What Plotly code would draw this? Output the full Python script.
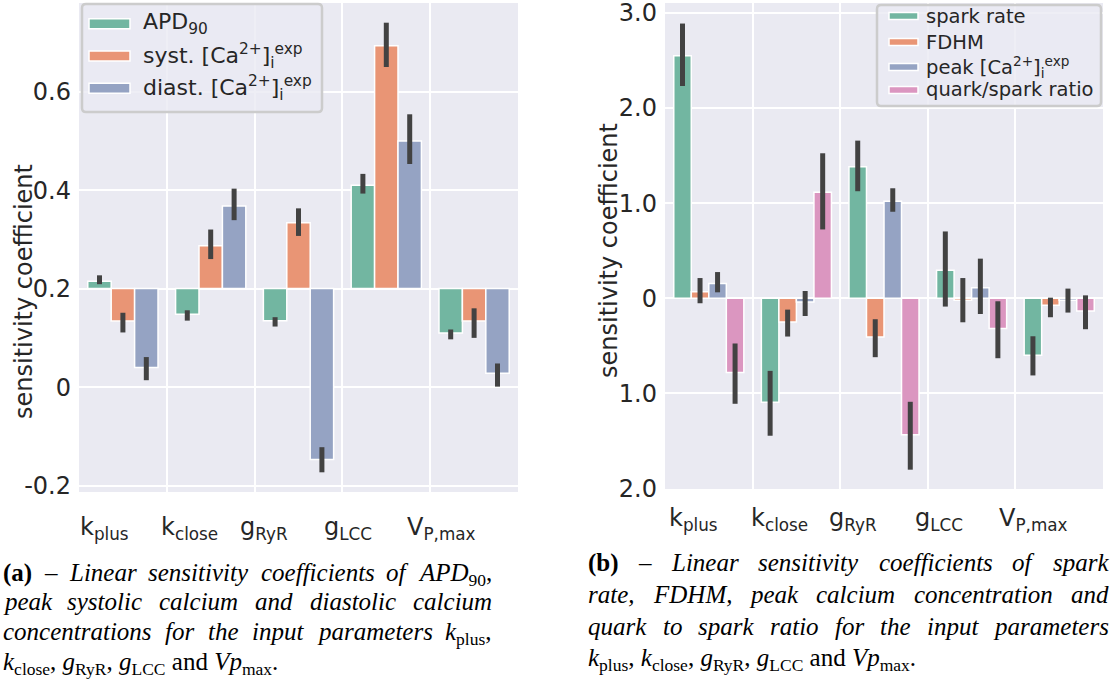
import plotly.graph_objects as go

W, H = 1112, 679

# ---------------- data ----------------
params = ["k<sub>plus</sub>", "k<sub>close</sub>", "g<sub>RyR</sub>",
          "g<sub>LCC</sub>", "V<sub>P,max</sub>"]

# panel (a): APD90, systolic and diastolic calcium
a_names = ["APD<sub>90</sub>",
           "syst. [Ca<sup>2+</sup>]<sub>i</sub><sup>exp</sup>",
           "diast. [Ca<sup>2+</sup>]<sub>i</sub><sup>exp</sup>"]
apd90 = [0.015, -0.052, -0.065, 0.210, -0.090]
apd90_lo = [0.009, -0.065, -0.077, 0.193, -0.103]
apd90_hi = [0.027, -0.044, -0.058, 0.233, -0.083]
syst = [-0.066, 0.087, 0.134, 0.493, -0.066]
syst_lo = [-0.089, 0.060, 0.107, 0.450, -0.100]
syst_hi = [-0.049, 0.120, 0.163, 0.540, -0.040]
diast = [-0.160, 0.168, -0.347, 0.300, -0.172]
diast_lo = [-0.186, 0.139, -0.373, 0.253, -0.199]
diast_hi = [-0.139, 0.203, -0.322, 0.354, -0.152]
a_tickvals = [-0.4, -0.2, 0.0, 0.2, 0.4]
a_ticktext = ["-0.2", "0", "0.2", "0.4", "0.6"]

# panel (b): spark rate, FDHM, peak calcium, quark/spark ratio
b_names = ["spark rate", "FDHM",
           "peak [Ca<sup>2+</sup>]<sub>i</sub><sup>exp</sup>",
           "quark/spark ratio"]
spark = [2.550, -1.094, 1.382, 0.294, -0.598]
spark_lo = [2.232, -1.445, 1.126, -0.087, -0.811]
spark_hi = [2.889, -0.763, 1.658, 0.703, -0.399]
fdhm = [0.070, -0.249, -0.406, -0.020, -0.073]
fdhm_lo = [-0.052, -0.402, -0.619, -0.252, -0.199]
fdhm_hi = [0.213, -0.119, -0.220, 0.213, 0.007]
peak = [0.157, -0.039, 1.021, 0.112, -0.020]
peak_lo = [0.063, -0.186, 0.910, -0.165, -0.150]
peak_hi = [0.276, 0.077, 1.157, 0.417, 0.102]
quark = [-0.780, 1.115, -1.434, -0.318, -0.133]
quark_lo = [-1.109, 0.724, -1.802, -0.630, -0.325]
quark_hi = [-0.475, 1.525, -1.088, -0.031, 0.031]
b_tickvals = [-2, -1, 0, 1, 2, 3]
b_ticktext = ["2.0", "1.0", "0", "1.0", "2.0", "3.0"]

# captions: justified lines are word lists, the closing line is one string
caption_a = [
    ["<b>(a)</b>", "–", "<i>Linear</i>", "<i>sensitivity</i>", "<i>coefficients</i>",
     "<i>of</i>", "<i>APD</i><sub>90</sub>,"],
    ["<i>peak</i>", "<i>systolic</i>", "<i>calcium</i>", "<i>and</i>",
     "<i>diastolic</i>", "<i>calcium</i>"],
    ["<i>concentrations</i>", "<i>for</i>", "<i>the</i>", "<i>input</i>",
     "<i>parameters</i>", "<i>k</i><sub>plus</sub>,"],
    "<i>k</i><sub>close</sub>, <i>g</i><sub>RyR</sub>, <i>g</i><sub>LCC</sub> and <i>Vp</i><sub>max</sub>.",
]
caption_b = [
    ["<b>(b)</b>", "–", "<i>Linear</i>", "<i>sensitivity</i>", "<i>coefficients</i>",
     "<i>of</i>", "<i>spark</i>"],
    ["<i>rate,</i>", "<i>FDHM,</i>", "<i>peak</i>", "<i>calcium</i>",
     "<i>concentration</i>", "<i>and</i>"],
    ["<i>quark</i>", "<i>to</i>", "<i>spark</i>", "<i>ratio</i>", "<i>for</i>",
     "<i>the</i>", "<i>input</i>", "<i>parameters</i>"],
    "<i>k</i><sub>plus</sub>, <i>k</i><sub>close</sub>, <i>g</i><sub>RyR</sub>, "
    "<i>g</i><sub>LCC</sub> and <i>Vp</i><sub>max</sub>.",
]

# ---------------- style ----------------
colors = ["#72b6a1", "#e99575", "#95a3c3", "#db96c0"]
ERR = "#424242"
BG = "#eaeaf2"
TXT = "#262626"
SANS = "DejaVu Sans"
SERIF = "Liberation Serif"
CAP_SIZE = 25


def px(x):
    return x / W


def py(y):
    return 1 - y / H


def bar(vals, lo, hi, color, xa, ya):
    return go.Bar(
        x=list(range(len(vals))), y=vals, xaxis=xa, yaxis=ya,
        marker=dict(color=color, line=dict(color="white", width=1.5)),
        error_y=dict(type="data", symmetric=False,
                     array=[h - v for v, h in zip(vals, hi)],
                     arrayminus=[v - l for v, l in zip(vals, lo)],
                     color=ERR, thickness=5, width=0),
        showlegend=False, hoverinfo="skip",
    )


fig = go.Figure()
for vals, lo, hi, c in zip([apd90, syst, diast], [apd90_lo, syst_lo, diast_lo],
                           [apd90_hi, syst_hi, diast_hi], colors):
    fig.add_trace(bar(vals, lo, hi, c, "x", "y"))
for vals, lo, hi, c in zip([spark, fdhm, peak, quark],
                           [spark_lo, fdhm_lo, peak_lo, quark_lo],
                           [spark_hi, fdhm_hi, peak_hi, quark_hi], colors):
    fig.add_trace(bar(vals, lo, hi, c, "x2", "y2"))

xcommon = dict(range=[-0.5, 4.5], tickvals=[0.5, 1.5, 2.5, 3.5],
               showticklabels=False, showgrid=True, gridcolor="white",
               gridwidth=2, zeroline=False, showline=False, ticks="",
               automargin=False, fixedrange=True)
ycommon = dict(showgrid=True, gridcolor="white", gridwidth=2, zeroline=False,
               showline=False, ticks="", ticklabelstandoff=7,
               ticklabeloverflow="allow", automargin=False,
               tickfont=dict(family=SANS, size=24, color=TXT), fixedrange=True)

fig.update_layout(
    width=W, height=H, autosize=False,
    margin=dict(l=0, r=0, t=0, b=0, pad=0),
    paper_bgcolor="white", plot_bgcolor=BG,
    showlegend=False,
    barmode="group", bargap=0.2, bargroupgap=0,
    font=dict(family=SANS, color=TXT),
    xaxis=dict(domain=[px(79), px(518)], anchor="y", **xcommon),
    yaxis=dict(domain=[py(492), py(3)], anchor="x", range=[-0.413, 0.58],
               tickvals=a_tickvals, ticktext=a_ticktext, **ycommon),
    xaxis2=dict(domain=[px(665), px(1103)], anchor="y2", **xcommon),
    yaxis2=dict(domain=[py(489), py(3)], anchor="x2", range=[-2.005, 3.105],
                tickvals=b_tickvals, ticktext=b_ticktext, **ycommon),
)

shapes = []
annotations = []


def rounded_box(x0, y0, x1, y1, r):
    rx, ry = r / W, r / H
    X0, X1, Y0, Y1 = px(x0), px(x1), py(y1), py(y0)
    return (f"M{X0 + rx},{Y0} L{X1 - rx},{Y0} Q{X1},{Y0} {X1},{Y0 + ry} "
            f"L{X1},{Y1 - ry} Q{X1},{Y1} {X1 - rx},{Y1} L{X0 + rx},{Y1} "
            f"Q{X0},{Y1} {X0},{Y1 - ry} L{X0},{Y0 + ry} Q{X0},{Y0} {X0 + rx},{Y0} Z")


def legend(box, rows, names, sw_x, sw_h, text_x, size):
    shapes.append(dict(type="path", xref="paper", yref="paper",
                       path=rounded_box(*box, 4), layer="above",
                       fillcolor="rgba(234,234,242,0.8)",
                       line=dict(color="#cccccc", width=2.5)))
    for yc, name, c in zip(rows, names, colors):
        shapes.append(dict(type="rect", xref="paper", yref="paper", layer="above",
                           x0=px(sw_x[0]), x1=px(sw_x[1]),
                           y0=py(yc + sw_h / 2), y1=py(yc - sw_h / 2),
                           fillcolor=c, line=dict(color="white", width=1.5)))
        annotations.append(dict(xref="paper", yref="paper", x=px(text_x), y=py(yc),
                                xanchor="left", yanchor="middle", showarrow=False,
                                text=name, font=dict(family=SANS, size=size, color=TXT)))


legend((82, 4, 322, 112), [23.7, 56, 88.3], a_names, (89, 130), 10, 141, 22)
legend((877, 5, 1101, 106), [16, 42, 67, 90], b_names, (889, 918), 7, 924, 19.5)

# y-axis titles
for x, y in [(24, 292), (609, 251)]:
    annotations.append(dict(xref="paper", yref="paper", x=px(x), y=py(y),
                            xanchor="center", yanchor="middle", textangle=-90,
                            showarrow=False, text="sensitivity coefficient",
                            font=dict(family=SANS, size=24, color=TXT)))

# category labels under each panel
label_shift_a = [-0.215, -0.247, -0.393, -0.436, -0.366]
label_shift_b = [-0.18, -0.193, -0.354, -0.372, -0.288]
for xref, shifts, ylab in [("x", label_shift_a, 528), ("x2", label_shift_b, 519)]:
    for i, (lab, s) in enumerate(zip(params, shifts)):
        annotations.append(dict(xref=xref, yref="paper", x=i + s, y=py(ylab),
                                xanchor="center", yanchor="middle", showarrow=False,
                                text=lab, font=dict(family=SANS, size=24, color=TXT)))

# ---------------- justified captions ----------------
# approximate advance widths (1/1000 em) of the serif face
_ital = dict(zip("abcdefghijklmnopqrstuvwxyz",
                 [500, 500, 444, 500, 444, 278, 500, 500, 278, 278, 444, 278, 722,
                  500, 500, 500, 500, 389, 389, 278, 500, 444, 667, 444, 444, 389]))
_ital.update(dict(zip("ABCDEFGHIJKLMNOPQRSTUVWXYZ",
                      [611, 611, 667, 722, 611, 611, 722, 722, 333, 444, 667, 556, 833,
                       667, 722, 611, 722, 611, 500, 556, 722, 611, 833, 611, 556, 556])))
_ital.update({" ": 250, ",": 250, ".": 250, "(": 333, ")": 333, "–": 500, "/": 278})
_ital.update({d: 500 for d in "0123456789"})
_bold = dict(_ital, a=500, b=556)


def word_width(html, size):
    w, scale, bold, i = 0.0, 1.0, False, 0
    while i < len(html):
        if html[i] == "<":
            j = html.index(">", i)
            tag = html[i + 1:j]
            if tag == "sub":
                scale = 0.7
            elif tag == "/sub":
                scale = 1.0
            elif tag == "b":
                bold = True
            elif tag == "/b":
                bold = False
            i = j + 1
            continue
        table = _bold if bold else _ital
        w += table.get(html[i], 500) * scale
        i += 1
    return w * size / 1000


def caption(lines, x0, x1, baselines):
    for line, base in zip(lines, baselines):
        top = py(base - 0.891 * CAP_SIZE - 2)
        font = dict(family=SERIF, size=CAP_SIZE, color="black")
        if isinstance(line, str):
            annotations.append(dict(xref="paper", yref="paper", x=px(x0 - 2), y=top,
                                    xanchor="left", yanchor="top", showarrow=False,
                                    text=line, font=font))
            continue
        widths = [word_width(wd, CAP_SIZE) for wd in line]
        gap = (x1 - x0 - sum(widths)) / (len(line) - 1)
        left = x0
        for k, (wd, w) in enumerate(zip(line, widths)):
            if k == 0:
                xa, anchor = left - 2, "left"
            elif k == len(line) - 1:
                xa, anchor = x1 + 2, "right"
            else:
                xa, anchor = left + w / 2, "center"
            annotations.append(dict(xref="paper", yref="paper", x=px(xa), y=top,
                                    xanchor=anchor, yanchor="top", showarrow=False,
                                    text=wd, font=font))
            left += w + gap


caption(caption_a, 3, 492, [581, 610, 640, 670])
caption(caption_b, 588, 1109, [571, 603, 635, 666])

fig.update_layout(shapes=shapes, annotations=annotations)
fig.write_html("out.html")
